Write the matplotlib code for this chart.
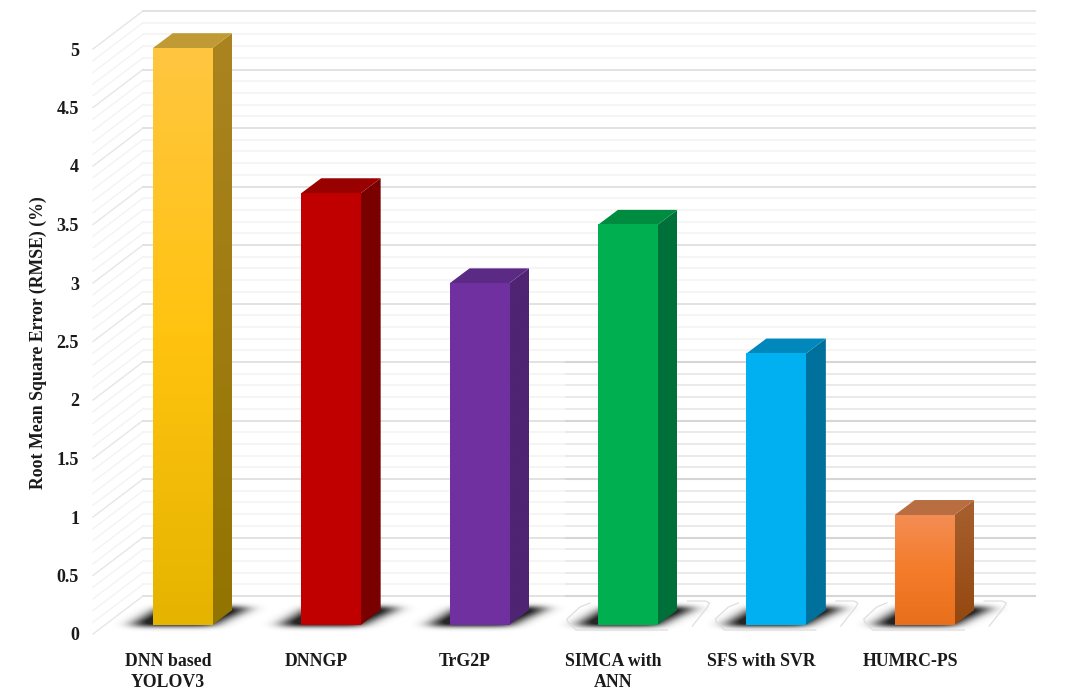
import numpy as np
import matplotlib
matplotlib.use("Agg")
import matplotlib.pyplot as plt
from matplotlib.patches import Polygon
from matplotlib.colors import LinearSegmentedColormap

categories = ["DNN based\nYOLOV3", "DNNGP", "TrG2P", "SIMCA with\nANN", "SFS with SVR", "HUMRC-PS"]
rmse = [4.93, 3.69, 2.92, 3.42, 2.32, 0.94]
y_ticks = [0, 0.5, 1, 1.5, 2, 2.5, 3, 3.5, 4, 4.5, 5]
y_tick_labels = ["0", "0.5", "1", "1.5", "2", "2.5", "3", "3.5", "4", "4.5", "5"]
y_label = "Root Mean Square Error (RMSE) (%)"
face_gradients = [["#E5B400", "#FFC30F", "#FFC640"], ["#C00000", "#C00000", "#C00000"],
                  ["#7030A0", "#7030A0", "#7030A0"], ["#00B050", "#00B050", "#00B050"],
                  ["#00B0F0", "#00B0F0", "#00B0F0"], ["#E8701C", "#F47C2A", "#F38D54"]]
side_colors = [["#927400", "#AB8420"], ["#7A0000", "#7A0000"], ["#4F2472", "#4F2472"],
               ["#00703A", "#00703A"], ["#00709C", "#00709C"], ["#94480F", "#A86030"]]
top_colors = ["#C09A35", "#990000", "#5B2A85", "#008C40", "#0088BD", "#B96E42"]

W, H = 1074, 694
PX_X, PX_Y = 148.4, 117.0
fig = plt.figure(figsize=(W / 100, H / 100), dpi=100, facecolor="white")
ax = fig.add_axes([93 / W, (H - 634) / H, (1035 - 93) / W, 622.4 / H])
XLIM = ((93 - 168) / PX_X, (1035 - 168) / PX_X)
YLIM = (0, 622.4 / PX_Y)
ax.set_xlim(*XLIM)
ax.set_ylim(*YLIM)
ax.set_facecolor("none")
for s in ax.spines.values():
    s.set_visible(False)

dx = lambda p: p / PX_X
dy = lambda p: p / PX_Y
WALL_X = dx(50) + XLIM[0]
WALL_DY = dy(38)
BASE = dy(9)
BAR_W = dx(59.5)
BAR_SHIFT = dx(-14.5)
DEPTH_X, DEPTH_Y = dx(20), dy(15)


def blur(a, sigma, axis):
    r = int(3 * sigma)
    k = np.exp(-0.5 * (np.arange(-r, r + 1) / sigma) ** 2)
    k /= k.sum()
    return np.apply_along_axis(lambda m: np.convolve(m, k, mode="same"), axis, a)


# soft floor shadow, defined in pixel offsets from the bar's base
px, py = np.meshgrid(np.arange(-60, 140), np.arange(-10, 34))
y_frac = np.clip(py / 18.0, 0, 1)
inside = (py >= -1) & (py <= 17) & (px >= -20 + 30 * y_frac) & (px <= 60 + 38 * y_frac)
shadow_alpha = blur(blur(inside.astype(float), 9, 1), 2.5, 0)
shadow_rgba = np.zeros(shadow_alpha.shape + (4,))
shadow_rgba[..., :3] = 0.15
shadow_rgba[..., 3] = np.clip(shadow_alpha * 1.3, 0, 1)

# walls: every 0.1 a thin rule, every 0.5 a stronger one
levels = np.arange(0, 51) / 10
for i, v in enumerate(levels):
    major = i % 5 == 0
    c = "#E2E2E2" if major else "#F3F3F3"
    ax.plot([XLIM[0], WALL_X], [v, v + WALL_DY], color="#E6E6E6" if major else "#F3F3F3", lw=1.0, zorder=1, clip_on=False)
    ax.plot([WALL_X, XLIM[1]], [v + WALL_DY] * 2, color=c, lw=1.4 if major else 1.1, zorder=1, clip_on=False)
    if v <= 2.0:
        ax.plot([dx(566 - 168), XLIM[1]], [v + WALL_DY] * 2, color="#D6D6D6" if major else "#E8E8E8",
                lw=1.5 if major else 1.2, zorder=1, clip_on=False)

for i, (val, grad, side, top) in enumerate(zip(rmse, face_gradients, side_colors, top_colors)):
    c = i - BAR_SHIFT
    l, r = c - BAR_W / 2, c + BAR_W / 2
    b, t = BASE, BASE + val
    ax.imshow(shadow_rgba, origin="lower", aspect="auto", zorder=2, interpolation="bilinear",
              extent=(l + dx(-60), l + dx(140), b + dy(-10), b + dy(34)))
    if i >= 3:
        ax.plot([l - dx(8), l - dx(18), l - dx(31), l - dx(30), l - dx(22), r + dx(10)],
                [b + dy(22), b + dy(18), b + dy(6), b + dy(3), b - dy(5), b - dy(5)],
                color="#DEDEDE", lw=0.9, zorder=2)
        ax.plot([r + dx(35), r + dx(50), r + dx(52), r + dx(48), r + dx(30)],
                [b - dy(1), b + dy(18), b + dy(22), b + dy(24), b + dy(24)],
                color="#DEDEDE", lw=0.9, zorder=2)
    cm = LinearSegmentedColormap.from_list("f", grad)
    ax.imshow(np.linspace(1, 0, 256).reshape(-1, 1), cmap=cm, vmin=0, vmax=1, aspect="auto",
              extent=(l, r, b, t), zorder=4, interpolation="bilinear")
    cs = LinearSegmentedColormap.from_list("s", side)
    im = ax.imshow(np.linspace(1, 0, 256).reshape(-1, 1), cmap=cs, vmin=0, vmax=1, aspect="auto",
                   extent=(r, r + DEPTH_X, b, t + DEPTH_Y), zorder=3, interpolation="bilinear")
    im.set_clip_path(Polygon([(r, b), (r + DEPTH_X, b + DEPTH_Y), (r + DEPTH_X, t + DEPTH_Y), (r, t)],
                             closed=True, transform=ax.transData))
    ax.add_patch(Polygon([(l, t), (r, t), (r + DEPTH_X, t + DEPTH_Y), (l + DEPTH_X, t + DEPTH_Y)],
                         closed=True, fc=top, ec="none", zorder=3))

ax.set_xlim(*XLIM)
ax.set_ylim(*YLIM)

font = dict(family="Liberation Serif", fontweight="bold", color="#1A1A1A")
ax.set_xticks(range(len(categories)))
ax.set_xticklabels(categories, fontsize=12.8, linespacing=1.3, **font)
ax.set_yticks(y_ticks)
ax.set_yticklabels(y_tick_labels, fontsize=13, **font)
ax.tick_params(axis="x", length=0, pad=13.5)
ax.tick_params(axis="y", length=0, pad=10)
ax.set_ylabel(y_label, fontsize=12.8, labelpad=0, **font)
ax.yaxis.set_label_coords((47 - 93) / (1035 - 93), (634 - 343) / 622.4)

fig.savefig("out.png", dpi=100)
